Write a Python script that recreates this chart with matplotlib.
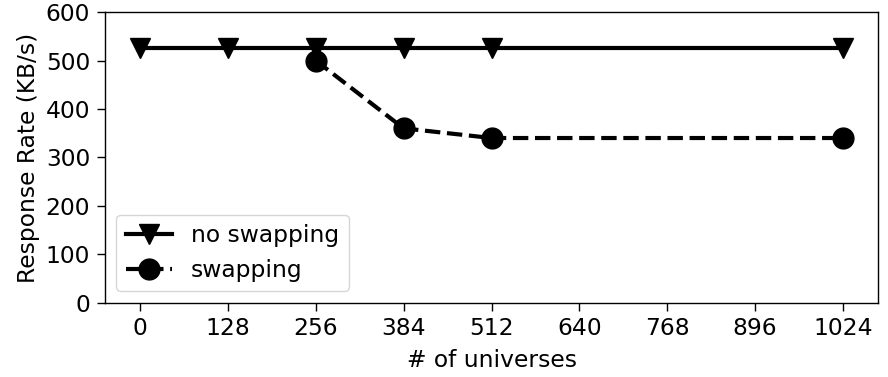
import matplotlib
matplotlib.use('Agg')
import matplotlib.pyplot as plt

# データ
x_noswap = [0, 128, 256, 384, 512, 1024]
y_noswap = [525, 525, 525, 525, 525, 525]
x_swap = [256, 384, 512, 1024]
y_swap = [500, 360, 340, 340]
xticks = [0, 128, 256, 384, 512, 640, 768, 896, 1024]

plt.rcParams['font.family'] = 'DejaVu Sans'
plt.rcParams['font.size'] = 16.8
plt.rcParams['xtick.major.size'] = 5.5
plt.rcParams['ytick.major.size'] = 5.5
plt.rcParams['xtick.major.width'] = 1.0
plt.rcParams['ytick.major.width'] = 1.0
plt.rcParams['axes.linewidth'] = 1.0
plt.rcParams['xtick.major.pad'] = 5
plt.rcParams['ytick.major.pad'] = 5

fig, ax = plt.subplots(figsize=(8.88, 3.77), dpi=100)
ax.plot(x_noswap, y_noswap, color='black', lw=3, marker='v', markersize=15, label='no swapping')
ax.plot(x_swap, y_swap, color='black', lw=3, ls='--', marker='o', markersize=15, label='swapping')

ax.set_xticks(xticks)
ax.set_ylim(0, 600)
ax.set_xlabel('# of universes', labelpad=6)
ax.set_ylabel('Response Rate (KB/s)')
ax.legend(loc='lower left')

plt.subplots_adjust(left=0.118, right=0.989, top=0.968, bottom=0.197)
plt.savefig('out.png', dpi=100)
